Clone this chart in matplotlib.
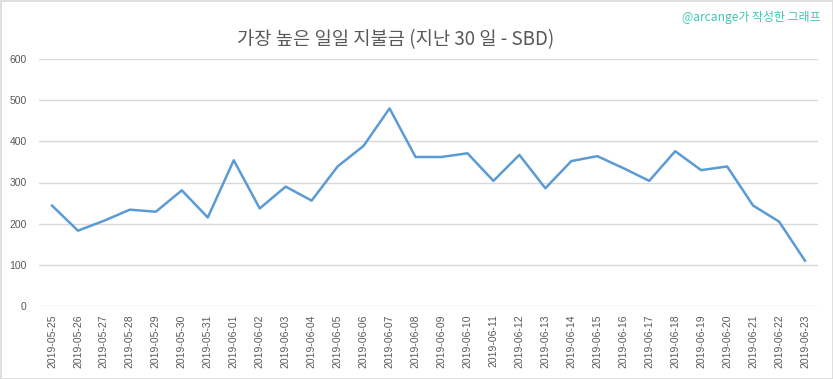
import matplotlib
matplotlib.use("Agg")
import matplotlib.pyplot as plt
from matplotlib.patches import Rectangle

dates = ["2019-05-25", "2019-05-26", "2019-05-27", "2019-05-28", "2019-05-29",
         "2019-05-30", "2019-05-31", "2019-06-01", "2019-06-02", "2019-06-03",
         "2019-06-04", "2019-06-05", "2019-06-06", "2019-06-07", "2019-06-08",
         "2019-06-09", "2019-06-10", "2019-06-11", "2019-06-12", "2019-06-13",
         "2019-06-14", "2019-06-15", "2019-06-16", "2019-06-17", "2019-06-18",
         "2019-06-19", "2019-06-20", "2019-06-21", "2019-06-22", "2019-06-23"]
payouts = [244, 183, 207, 234, 229, 281, 215, 354, 237, 290,
           256, 339, 389, 480, 362, 362, 371, 304, 367, 286,
           352, 364, 335, 304, 376, 330, 339, 244, 205, 110]
y_ticks = [0, 100, 200, 300, 400, 500, 600]

title = "가장 높은 일일 지불금 (지난 30 일 - SBD)"
credit = "@arcange가 작성한 그래프"

text_gray = "#595959"
grid_gray = "#D9D9D9"

fig = plt.figure(figsize=(8.33, 3.79), dpi=100)
ax = fig.add_axes([39 / 833, 1 - 306 / 379, (818 - 39) / 833, (306 - 59) / 379])

x = list(range(len(dates)))
ax.plot(x, payouts, color="#5B9BD5", linewidth=1.8, zorder=3)

ax.set_xlim(-0.5, len(dates) - 0.5)
ax.set_ylim(0, 600)
ax.set_yticks(y_ticks)
ax.set_xticks(x)
ax.set_xticklabels(dates, rotation=90, fontfamily="Liberation Sans",
                   fontsize=7.5, color=text_gray)
ax.set_yticklabels([str(v) for v in y_ticks], fontfamily="Liberation Sans",
                   fontsize=7.5, color=text_gray)
ax.tick_params(axis="x", length=0, pad=6)
ax.tick_params(axis="y", length=0, pad=9)
ax.grid(axis="y", color=grid_gray, linewidth=1)
ax.set_axisbelow(True)
for s in ax.spines.values():
    s.set_visible(False)

fig.text(396 / 833, 1 - 40 / 379, title, ha="center", va="center",
         fontsize=13.5, color=text_gray, family=["Noto Sans CJK KR", "DejaVu Sans"])
fig.text(821 / 833, 1 - 18 / 379, credit, ha="right", va="center",
         fontsize=8.6, color="#3CC8B4", family=["Noto Sans CJK KR", "DejaVu Sans"])

fig.patches.append(Rectangle((0.5 / 833, 0.5 / 379), 1 - 1 / 833, 1 - 1 / 379,
                             transform=fig.transFigure, fill=False,
                             edgecolor=grid_gray, linewidth=1.2))

plt.savefig("out.png", dpi=100)
plt.close()
